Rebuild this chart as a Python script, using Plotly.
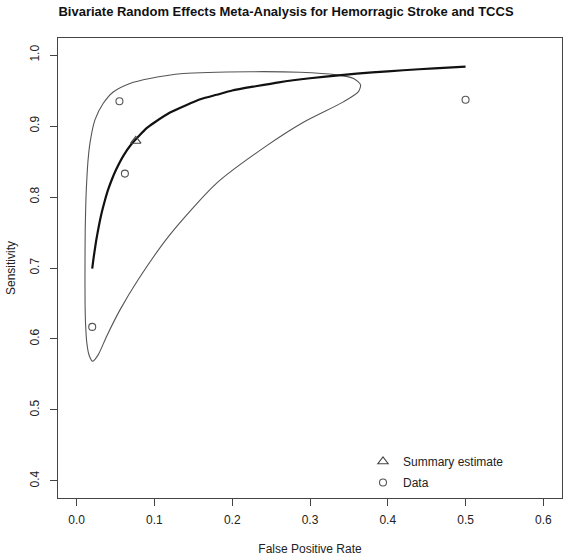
import plotly.graph_objects as go

# Study data (false positive rate, sensitivity)
data_fpr = [0.055, 0.062, 0.020, 0.500]
data_sens = [0.935, 0.833, 0.617, 0.937]

# Summary estimate
summary_fpr = [0.076]
summary_sens = [0.879]

# SROC curve
sroc_fpr = [0.020, 0.022, 0.025, 0.028, 0.032, 0.036, 0.040, 0.045, 0.050, 0.060,
            0.070, 0.080, 0.090, 0.100, 0.120, 0.140, 0.160, 0.180, 0.200, 0.230,
            0.260, 0.300, 0.340, 0.380, 0.420, 0.460, 0.500]
sroc_sens = [0.699, 0.716, 0.738, 0.756, 0.777, 0.794, 0.809, 0.824, 0.837, 0.858,
             0.874, 0.886, 0.897, 0.905, 0.919, 0.929, 0.938, 0.944, 0.950, 0.956,
             0.9616, 0.9673, 0.9718, 0.9755, 0.9786, 0.9813, 0.9836]

# 95% confidence region
conf_fpr = [0.0206, 0.0160, 0.0130, 0.0115, 0.0108, 0.0107, 0.0110, 0.0120, 0.0130,
            0.0145, 0.0171, 0.0235,
            0.0342, 0.0470, 0.0685, 0.0940, 0.1370, 0.2228, 0.2870, 0.3340, 0.3560,
            0.3650, 0.3620, 0.3430, 0.2910, 0.2440, 0.1800, 0.1200, 0.0790,
            0.0557, 0.0386, 0.0278, 0.0206]
conf_sens = [0.5686, 0.5770, 0.5950, 0.6200, 0.6500, 0.7000, 0.7540, 0.8000, 0.8240,
             0.8500, 0.8760, 0.9086,
             0.9320, 0.9480, 0.9600, 0.9670, 0.9740, 0.9765, 0.9757, 0.9720, 0.9670,
             0.9580, 0.9480, 0.9340, 0.9050, 0.8720, 0.8195, 0.7470, 0.6835,
             0.6410, 0.6040, 0.5780, 0.5686]

x_ticks = [0.0, 0.1, 0.2, 0.3, 0.4, 0.5, 0.6]
y_ticks = [0.4, 0.5, 0.6, 0.7, 0.8, 0.9, 1.0]

FONT = "Liberation Sans, Arial, Helvetica, sans-serif"

fig = go.Figure()
fig.add_trace(go.Scatter(x=conf_fpr, y=conf_sens, mode="lines",
                         line=dict(color="#555555", width=1.1, shape="spline", smoothing=0.7),
                         showlegend=False, hoverinfo="skip"))
fig.add_trace(go.Scatter(x=sroc_fpr, y=sroc_sens, mode="lines",
                         line=dict(color="#111111", width=2.2, shape="spline", smoothing=0.6),
                         showlegend=False, hoverinfo="skip"))
fig.add_trace(go.Scatter(x=summary_fpr, y=summary_sens, mode="markers",
                         name="Summary estimate", legendgroup="a",
                         marker=dict(symbol="triangle-up-open", size=9, color="#444444",
                                     line=dict(width=1.1, color="#444444"))))
fig.add_trace(go.Scatter(x=data_fpr, y=data_sens, mode="markers", name="Data",
                         legendgroup="b",
                         marker=dict(symbol="circle-open", size=7, color="#555555",
                                     line=dict(width=1.1, color="#555555"))))

axis_common = dict(showgrid=False, zeroline=False, showline=True, linecolor="#444444",
                   linewidth=1, mirror=True, ticks="outside", ticklen=7, tickcolor="#444444",
                   tickfont=dict(family=FONT, size=12, color="#222222"))

fig.update_xaxes(range=[-0.024, 0.624], tickvals=x_ticks,
                 ticktext=[f"{v:.1f}" for v in x_ticks], ticklabelstandoff=4,
                 title=dict(text="False Positive Rate", font=dict(family=FONT, size=12, color="#222222"),
                            standoff=20),
                 **axis_common)
fig.update_yaxes(range=[0.376, 1.024], tickvals=y_ticks,
                 ticktext=[f"{v:.1f}" for v in y_ticks], tickangle=-90, ticklabelstandoff=6,
                 title=dict(text="Sensitivity", font=dict(family=FONT, size=12, color="#222222"),
                            standoff=10),
                 **axis_common)

fig.update_layout(
    width=566, height=556,
    margin=dict(l=58, r=4, t=38, b=58, autoexpand=False),
    paper_bgcolor="white", plot_bgcolor="white",
    title=dict(text="<b>Bivariate Random Effects Meta-Analysis for Hemorragic Stroke and TCCS</b>",
               font=dict(family=FONT, size=13, color="#111111"),
               x=286 / 566, xanchor="center", xref="container",
               y=1 - 11 / 556, yanchor="middle", yref="container"),
    legend=dict(x=(363 - 58) / 504, y=(498 - 447) / 460, xref="paper", yref="paper",
                xanchor="left", yanchor="top", itemwidth=30, bgcolor="rgba(0,0,0,0)",
                traceorder="grouped", tracegroupgap=2,
                font=dict(family=FONT, size=12, color="#222222")),
    showlegend=True,
)

fig.write_html("out.html")
